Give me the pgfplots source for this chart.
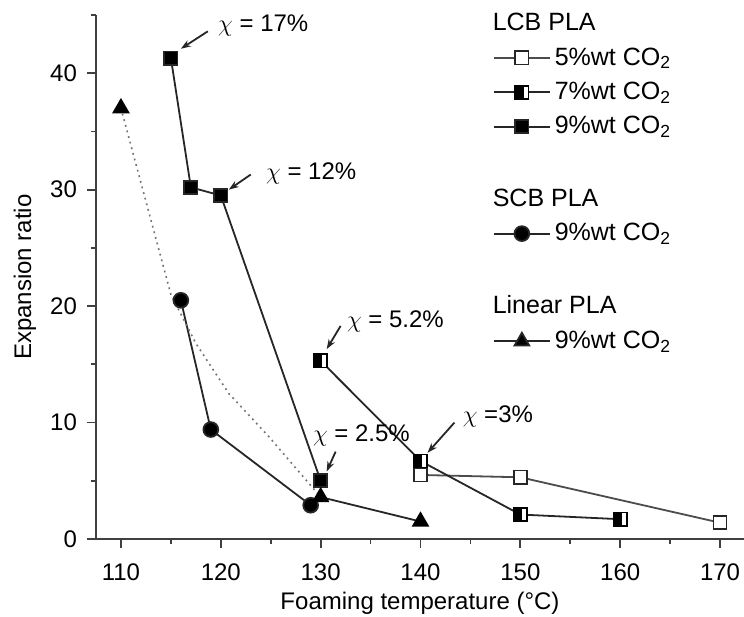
\documentclass[border=0pt]{standalone}
\usepackage{fontspec}
\setmainfont{Liberation Sans}
\usepackage{pgfplots}
\pgfplotsset{compat=1.18}
\usetikzlibrary{arrows.meta}

% square whose left half is filled
\pgfdeclareplotmark{halfsquare}{%
  \pgfpathrectangle{\pgfpoint{-\pgfplotmarksize}{-\pgfplotmarksize}}{\pgfpoint{2\pgfplotmarksize}{2\pgfplotmarksize}}%
  \pgfsetfillcolor{white}\pgfusepath{fill}%
  \pgfpathrectangle{\pgfpoint{-\pgfplotmarksize}{-\pgfplotmarksize}}{\pgfpoint{1.25\pgfplotmarksize}{2\pgfplotmarksize}}%
  \pgfsetfillcolor{black}\pgfusepath{fill}%
  \pgfpathrectangle{\pgfpoint{-\pgfplotmarksize}{-\pgfplotmarksize}}{\pgfpoint{2\pgfplotmarksize}{2\pgfplotmarksize}}%
  \pgfusepath{stroke}%
}

\tikzset{ann/.style={font=\fontsize{12}{14}\selectfont, anchor=west, inner sep=0pt},
  arr/.style={-{Stealth[length=5pt,width=3.5pt]}, line width=0.9pt, black!85}}

\begin{document}
\begin{tikzpicture}
\begin{axis}[
    scale only axis,
    width=324pt, height=262pt,
    xmin=107.5, xmax=172.4,
    ymin=0, ymax=45,
    axis lines*=left,
    axis line style={line width=1.1pt, black!75},
    tick style={line width=0.9pt, black!75},
    tick align=outside,
    major tick length=4.5pt,
    minor tick length=2.5pt,
    xtick={110,120,...,170},
    ytick={0,10,...,40},
    minor xtick={115,125,...,165},
    minor ytick={5,15,...,45},
    /pgf/number format/assume math mode=true,
    tick label style={font=\fontsize{12}{14}\selectfont},
    xticklabel style={yshift=-4.5pt},
    yticklabel style={xshift=-1.5pt},
    xlabel={Foaming temperature (°C)},
    ylabel={Expansion ratio},
    label style={font=\fontsize{12}{14}\selectfont},
    xlabel style={at={(axis description cs:0.5,0)}, anchor=center, yshift=-32pt},
    ylabel style={at={(axis description cs:0,0.5)}, anchor=center, yshift=35.5pt},
    clip=false,
    legend style={draw=none, fill=none, at={(axis description cs:0.612,1.012)}, anchor=north west,
      font=\fontsize{12.5}{15}\selectfont, row sep=3pt, inner sep=0pt},
    legend cell align=left,
    legend image code/.code={\draw[mark repeat=2,mark phase=2] plot coordinates {(0pt,0pt) (14pt,0pt) (28pt,0pt)};},
    every axis plot/.append style={line width=0.9pt},
]
\coordinate (o) at (rel axis cs:0,0);

% LCB PLA 5%wt CO2
\addplot[black!70, mark=square*, mark size=3.3pt, mark options={fill=white, draw=black!85, line width=0.8pt}, forget plot]
  coordinates {(140,5.5) (150,5.3) (170,1.4)};
% LCB PLA 7%wt CO2
\addplot[black!85, mark=halfsquare, mark size=3.3pt, mark options={draw=black, line width=0.8pt}, forget plot]
  coordinates {(130,15.3) (140,6.7) (150,2.1) (160,1.7)};
% LCB PLA 9%wt CO2
\addplot[black!85, mark=square*, mark size=3.3pt, mark options={fill=black}, forget plot]
  coordinates {(115,41.3) (117,30.2) (120,29.5) (130,5.0)};
% SCB PLA 9%wt CO2
\addplot[black!85, mark=*, mark size=3.7pt, mark options={fill=black}, forget plot]
  coordinates {(116,20.5) (119,9.4) (129,2.9)};
% Linear PLA 9%wt CO2
\addplot[black!55, dotted, line width=0.8pt, forget plot]
  coordinates {(110,37) (115,21) (117.5,16.8) (120.8,12.5) (124.8,8.8) (130,3.6)};
\addplot[black!85, forget plot]
  coordinates {(130,3.6) (140,1.5)};
\addplot[only marks, mark=triangle*, mark size=4.2pt, mark options={fill=black}, forget plot]
  coordinates {(110,37) (130,3.6) (140,1.5)};

% legend
\addlegendimage{empty legend}\addlegendentry{\hspace*{-31pt}LCB PLA}
\addlegendimage{black!70, line width=0.9pt, mark=square*, mark size=3.3pt, mark options={fill=white, draw=black!85}}\addlegendentry{5\%wt CO\textsubscript{2}}
\addlegendimage{black!85, line width=0.9pt, mark=halfsquare, mark size=3.3pt, mark options={draw=black}}\addlegendentry{7\%wt CO\textsubscript{2}}
\addlegendimage{black!85, line width=0.9pt, mark=square*, mark size=3.3pt, mark options={fill=black}}\addlegendentry{9\%wt CO\textsubscript{2}}
\addlegendimage{empty legend}\addlegendentry{\strut}
\addlegendimage{empty legend}\addlegendentry{\hspace*{-31pt}SCB PLA}
\addlegendimage{black!85, line width=0.9pt, mark=*, mark size=3.7pt, mark options={fill=black}}\addlegendentry{9\%wt CO\textsubscript{2}}
\addlegendimage{empty legend}\addlegendentry{\strut}
\addlegendimage{empty legend}\addlegendentry{\hspace*{-31pt}Linear PLA}
\addlegendimage{black!85, line width=0.9pt, mark=triangle*, mark size=4.2pt, mark options={fill=black}}\addlegendentry{9\%wt CO\textsubscript{2}}

% annotations
\node[ann] at (axis cs:119.7,44.1) {$\chi$ = 17\%};
\draw[arr] (axis cs:118.7,43.6) -- (axis cs:116.0,42.1);
\node[ann] at (axis cs:124.5,31.4) {$\chi$ = 12\%};
\draw[arr] (axis cs:123.0,31.3) -- (axis cs:120.8,30.0);
\node[ann] at (axis cs:132.6,18.7) {$\chi$ = 5.2\%};
\draw[arr] (axis cs:132.0,18.3) -- (axis cs:130.6,16.3);
\node[ann] at (axis cs:129.2,8.9) {$\chi$ = 2.5\%};
\draw[arr] (axis cs:131.5,7.5) -- (axis cs:130.6,5.8);
\node[ann] at (axis cs:144.2,10.5) {$\chi$ =3\%};
\draw[arr] (axis cs:143.4,10.0) -- (axis cs:140.7,7.4);
\end{axis}
\pgfresetboundingbox
\path[use as bounding box] ([shift={(-48pt,-38.5pt)}]o) rectangle ([shift={(324pt,269.5pt)}]o);
\end{tikzpicture}
\end{document}
